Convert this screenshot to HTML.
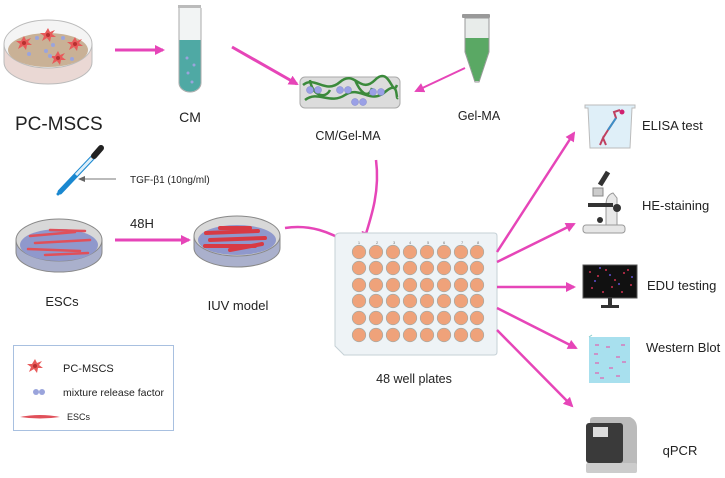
<!DOCTYPE html>
<html><head><meta charset="utf-8"><style>
html,body{margin:0;padding:0;background:#fff;}
svg{display:block;}
text{font-family:"Liberation Sans",sans-serif;fill:#222;}
</style></head><body>
<svg width="725" height="478" viewBox="0 0 725 478" xmlns="http://www.w3.org/2000/svg">
<defs>
<marker id="ah" markerWidth="10" markerHeight="10" refX="8" refY="5" orient="auto" markerUnits="userSpaceOnUse"><path d="M0,0 L10,5 L0,10 Z" fill="#e645b8"/></marker>
<marker id="ag" markerWidth="8" markerHeight="8" refX="6" refY="4" orient="auto" markerUnits="userSpaceOnUse"><path d="M0,1 L7,4 L0,7 Z" fill="#666"/></marker>
<g id="star"><path d="M0,-7 L2,-3 L7,-5 L4,-1 L8,2 L3,2 L2,7 L-1,3 L-6,6 L-4,1 L-8,-2 L-3,-2 Z" fill="#e85a5a"/><circle r="2" fill="#b83030"/></g>
</defs>

<!-- PC-MSCS dish -->
<path d="M4,44 L4,62 A44,22 0 0 0 92,62 L92,44" fill="#ead8d4" stroke="#bbb"/>
<ellipse cx="48" cy="44" rx="44" ry="24" fill="#f4f4f4" stroke="#bbb"/>
<ellipse cx="48" cy="50" rx="40" ry="17" fill="#c9b196"/>
<use href="#star" x="24" y="43"/><use href="#star" x="48" y="35"/><use href="#star" x="75" y="44"/><use href="#star" x="58" y="58"/>
<g fill="#9aa4dc"><circle cx="37" cy="38" r="2"/><circle cx="53" cy="45" r="2"/><circle cx="63" cy="38" r="2"/><circle cx="46" cy="51" r="2"/><circle cx="29" cy="54" r="2"/><circle cx="72" cy="59" r="2"/><circle cx="50" cy="56" r="2"/></g>
<text x="15" y="130" font-size="19">PC-MSCS</text>

<line x1="115" y1="50" x2="163" y2="50" stroke="#e645b8" stroke-width="3" marker-end="url(#ah)"/>

<!-- CM tube -->
<rect x="178" y="5" width="23" height="3" fill="#bbb"/>
<path d="M179,8 L179,83 A11,9 0 0 0 201,83 L201,8" fill="#f2f4f4" stroke="#aaa"/>
<path d="M179.5,40 L179.5,83 A10.5,8.5 0 0 0 200.5,83 L200.5,40 Z" fill="#4fa9a4"/>
<g fill="#9aa4dc"><circle cx="187" cy="58" r="1.5"/><circle cx="194" cy="65" r="1.5"/><circle cx="188" cy="73" r="1.5"/><circle cx="192" cy="82" r="1.5"/></g>
<text x="190" y="122" font-size="14" text-anchor="middle">CM</text>

<line x1="232" y1="47" x2="297" y2="84" stroke="#e645b8" stroke-width="3" marker-end="url(#ah)"/>

<!-- Gel -->
<rect x="300" y="77" width="100" height="31" rx="5" fill="#dcdcdc" stroke="#aaa"/>
<path d="M303,85 C315,75 325,95 340,82 S360,95 375,80 S392,98 397,85 M305,100 C318,90 330,105 345,95 S370,105 385,92 S395,100 398,98 M310,80 C312,95 325,100 330,90 M355,80 C360,92 368,100 372,88" stroke="#3b8a3b" stroke-width="2.5" fill="none"/>
<g fill="#9aa0e6" stroke="#7c82cc" stroke-width=".5"><circle cx="310" cy="90" r="3.5"/><circle cx="318" cy="90" r="3.5"/><circle cx="340" cy="90" r="3.5"/><circle cx="348" cy="90" r="3.5"/><circle cx="355" cy="102" r="3.5"/><circle cx="363" cy="102" r="3.5"/><circle cx="373" cy="92" r="3.5"/><circle cx="381" cy="92" r="3.5"/></g>
<text x="348" y="140" font-size="12.5" text-anchor="middle">CM/Gel-MA</text>

<!-- Gel-MA tube -->
<rect x="462" y="14" width="28" height="4" rx="1" fill="#999"/>
<path d="M465,18 L489,18 L489,52 L479,82 L475,82 L465,52 Z" fill="#e8ecea" stroke="#999"/>
<path d="M465.5,38 L488.5,38 L488.5,52 L479,81 L475,81 L465.5,52 Z" fill="#5aa864"/>
<text x="479" y="120" font-size="12.5" text-anchor="middle">Gel-MA</text>
<line x1="465" y1="68" x2="416" y2="91" stroke="#e645b8" stroke-width="2" marker-end="url(#ah)"/>

<path d="M376,160 C380,190 372,215 364,240" stroke="#e645b8" stroke-width="2.5" fill="none" marker-end="url(#ah)"/>

<!-- dropper -->
<line x1="60" y1="192" x2="96" y2="154" stroke="#1a88d0" stroke-width="5" stroke-linecap="round"/>
<line x1="76" y1="175" x2="96" y2="154" stroke="#ddeef8" stroke-width="3"/>
<line x1="94" y1="156" x2="101" y2="148" stroke="#222" stroke-width="6" stroke-linecap="round"/>
<circle cx="58" cy="194" r="1.5" fill="#1a88d0"/>
<line x1="116" y1="179" x2="79" y2="179" stroke="#777" stroke-width="1" marker-end="url(#ag)"/>
<text x="130" y="183" font-size="10">TGF-β1 (10ng/ml)</text>

<!-- ESCs dish -->
<path d="M16,240 L16,252 A43,20 0 0 0 102,252 L102,240" fill="#aab0cc" stroke="#888"/>
<ellipse cx="59" cy="240" rx="43" ry="21" fill="#d8d8d8" stroke="#888"/>
<ellipse cx="59" cy="245" rx="39" ry="16" fill="#8f98cc"/>
<g stroke="#e0505a" stroke-width="2.5" stroke-linecap="round"><line x1="30" y1="236" x2="75" y2="232"/><line x1="35" y1="243" x2="90" y2="240"/><line x1="28" y1="249" x2="80" y2="251"/><line x1="45" y1="255" x2="88" y2="253"/><line x1="50" y1="230" x2="85" y2="231"/></g>
<text x="130" y="228" font-size="13">48H</text>
<line x1="115" y1="240" x2="189" y2="240" stroke="#e645b8" stroke-width="3" marker-end="url(#ah)"/>

<!-- IUV dish -->
<path d="M194,236 L194,248 A43,19 0 0 0 280,248 L280,236" fill="#aab0cc" stroke="#888"/>
<ellipse cx="237" cy="236" rx="43" ry="20" fill="#d8d8d8" stroke="#888"/>
<ellipse cx="237" cy="240" rx="39" ry="15" fill="#8f98cc"/>
<g stroke="#d83a44" stroke-width="4" stroke-linecap="round"><line x1="206" y1="233" x2="258" y2="231"/><line x1="210" y1="240" x2="265" y2="238"/><line x1="205" y1="246" x2="255" y2="246"/><line x1="220" y1="228" x2="250" y2="228"/><line x1="230" y1="250" x2="262" y2="244"/></g>
<text x="62" y="306" font-size="13" text-anchor="middle">ESCs</text>
<text x="238" y="310" font-size="13" text-anchor="middle">IUV model</text>

<path d="M285,228 C310,224 330,232 350,244" stroke="#e645b8" stroke-width="2.5" fill="none" marker-end="url(#ah)"/>

<!-- plate -->
<path d="M340,233 L494,233 Q497,233 497,236 L497,352 Q497,355 494,355 L344,355 L335,346 L335,238 Q335,233 340,233 Z" fill="#eef3f6" stroke="#c5d0d6"/>
<g font-size="4" fill="#777">
<text x="359" y="244" text-anchor="middle" style="fill:#777">1</text><text x="376" y="244" style="fill:#777">2</text><text x="393" y="244" style="fill:#777">3</text><text x="409" y="244" style="fill:#777">4</text><text x="427" y="244" style="fill:#777">5</text><text x="443" y="244" style="fill:#777">6</text><text x="461" y="244" style="fill:#777">7</text><text x="477" y="244" style="fill:#777">8</text>
</g>
<g fill="#efa27a" stroke="#9aa" stroke-width=".6" id="wells">
<circle cx="359" cy="252" r="6.8"/><circle cx="376" cy="252" r="6.8"/><circle cx="393" cy="252" r="6.8"/><circle cx="410" cy="252" r="6.8"/><circle cx="427" cy="252" r="6.8"/><circle cx="444" cy="252" r="6.8"/><circle cx="461" cy="252" r="6.8"/><circle cx="477" cy="252" r="6.8"/>
<circle cx="359" cy="268" r="6.8"/><circle cx="376" cy="268" r="6.8"/><circle cx="393" cy="268" r="6.8"/><circle cx="410" cy="268" r="6.8"/><circle cx="427" cy="268" r="6.8"/><circle cx="444" cy="268" r="6.8"/><circle cx="461" cy="268" r="6.8"/><circle cx="477" cy="268" r="6.8"/>
<circle cx="359" cy="285" r="6.8"/><circle cx="376" cy="285" r="6.8"/><circle cx="393" cy="285" r="6.8"/><circle cx="410" cy="285" r="6.8"/><circle cx="427" cy="285" r="6.8"/><circle cx="444" cy="285" r="6.8"/><circle cx="461" cy="285" r="6.8"/><circle cx="477" cy="285" r="6.8"/>
<circle cx="359" cy="301" r="6.8"/><circle cx="376" cy="301" r="6.8"/><circle cx="393" cy="301" r="6.8"/><circle cx="410" cy="301" r="6.8"/><circle cx="427" cy="301" r="6.8"/><circle cx="444" cy="301" r="6.8"/><circle cx="461" cy="301" r="6.8"/><circle cx="477" cy="301" r="6.8"/>
<circle cx="359" cy="318" r="6.8"/><circle cx="376" cy="318" r="6.8"/><circle cx="393" cy="318" r="6.8"/><circle cx="410" cy="318" r="6.8"/><circle cx="427" cy="318" r="6.8"/><circle cx="444" cy="318" r="6.8"/><circle cx="461" cy="318" r="6.8"/><circle cx="477" cy="318" r="6.8"/>
<circle cx="359" cy="335" r="6.8"/><circle cx="376" cy="335" r="6.8"/><circle cx="393" cy="335" r="6.8"/><circle cx="410" cy="335" r="6.8"/><circle cx="427" cy="335" r="6.8"/><circle cx="444" cy="335" r="6.8"/><circle cx="461" cy="335" r="6.8"/><circle cx="477" cy="335" r="6.8"/>
</g>
<text x="414" y="383" font-size="12.5" text-anchor="middle">48 well plates</text>

<!-- right arrows -->
<g stroke="#e645b8" stroke-width="2.5" fill="none">
<line x1="497" y1="252" x2="574" y2="133" marker-end="url(#ah)"/>
<line x1="497" y1="262" x2="574" y2="224" marker-end="url(#ah)"/>
<line x1="497" y1="287" x2="574" y2="287" marker-end="url(#ah)"/>
<line x1="497" y1="308" x2="576" y2="348" marker-end="url(#ah)"/>
<line x1="497" y1="330" x2="572" y2="406" marker-end="url(#ah)"/>
</g>

<!-- ELISA -->
<path d="M585,105 L635,105 L635,108 L632,108 L630,148 L590,148 L588,108 L585,108 Z" fill="#dfeff8" stroke="#bbb"/>
<path d="M600,145 L603,138 L606,145 M603,138 L608,130 L612,124 L616,118 L614,112 L620,110" stroke="#c04060" stroke-width="2" fill="none"/>
<line x1="608" y1="130" x2="616" y2="118" stroke="#3a90c8" stroke-width="2"/>
<circle cx="622" cy="112" r="2.5" fill="#d02070"/>
<text x="642" y="130" font-size="13">ELISA test</text>

<!-- microscope -->
<rect x="583" y="225" width="42" height="8" rx="3" fill="#e6e6e6" stroke="#999"/>
<path d="M606,225 L606,205 Q606,195 613,193 L617,198 L617,225 Z" fill="#e8e8e8" stroke="#999"/>
<rect x="588" y="203" width="25" height="4" fill="#333"/>
<circle cx="617" cy="208" r="4" fill="#333"/>
<line x1="600" y1="185" x2="608" y2="172" stroke="#333" stroke-width="5"/>
<rect x="593" y="188" width="10" height="8" fill="#ccc" stroke="#888"/>
<circle cx="600" cy="220" r="3" fill="#333"/>
<text x="642" y="210" font-size="13">HE-staining</text>

<!-- monitor -->
<rect x="583" y="265" width="54" height="33" fill="#111" stroke="#555"/>
<g fill="#d03050"><circle cx="590" cy="272" r="1"/><circle cx="598" cy="276" r="1"/><circle cx="606" cy="270" r="1"/><circle cx="615" cy="280" r="1"/><circle cx="624" cy="273" r="1"/><circle cx="631" cy="285" r="1"/><circle cx="592" cy="288" r="1"/><circle cx="603" cy="292" r="1"/><circle cx="612" cy="287" r="1"/><circle cx="622" cy="292" r="1"/><circle cx="628" cy="270" r="1"/></g>
<g fill="#6050d0"><circle cx="595" cy="281" r="1"/><circle cx="610" cy="275" r="1"/><circle cx="619" cy="284" r="1"/><circle cx="600" cy="268" r="1"/><circle cx="632" cy="277" r="1"/></g>
<rect x="608" y="298" width="4" height="8" fill="#333"/><rect x="601" y="305" width="18" height="3" fill="#333"/>
<text x="647" y="290" font-size="13">EDU testing</text>

<!-- WB -->
<path d="M589,337 L630,337 L630,383 L589,383 Z" fill="#a8e0ee"/>
<path d="M589,337 L592,335 M589,337" stroke="#8cc"/>
<g stroke="#e060b0" stroke-width="1.2"><line x1="595" y1="345" x2="599" y2="345"/><line x1="606" y1="347" x2="610" y2="347"/><line x1="621" y1="345" x2="625" y2="345"/><line x1="594" y1="354" x2="598" y2="354"/><line x1="616" y1="357" x2="620" y2="357"/><line x1="595" y1="363" x2="599" y2="363"/><line x1="609" y1="368" x2="613" y2="368"/><line x1="622" y1="362" x2="626" y2="362"/><line x1="595" y1="373" x2="599" y2="373"/><line x1="616" y1="376" x2="620" y2="376"/><line x1="600" y1="378" x2="604" y2="378"/></g>
<text x="646" y="352" font-size="13">Western Blot</text>

<!-- qPCR -->
<path d="M590,420 Q590,417 594,417 L630,417 Q637,420 637,428 L637,470 L588,470 Z" fill="#bbb"/>
<rect x="586" y="423" width="37" height="40" rx="3" fill="#3a3a3a"/>
<rect x="593" y="427" width="15" height="10" fill="#ddd"/>
<rect x="586" y="463" width="51" height="10" rx="2" fill="#ccc"/>
<text x="680" y="455" font-size="13" text-anchor="middle">qPCR</text>

<!-- legend -->
<rect x="13.5" y="345.5" width="160" height="85" fill="#fff" stroke="#a8c0e0"/>
<use href="#star" x="35" y="366" transform="translate(-35 -366) scale(1) translate(35 366)"/>
<text x="63" y="372" font-size="11">PC-MSCS</text>
<circle cx="36" cy="392" r="3" fill="#9aa4dc"/><circle cx="42" cy="392" r="3" fill="#9aa4dc"/>
<text x="63" y="396" font-size="10.5">mixture release factor</text>
<path d="M20,417 Q40,413 60,417 Q40,420 20,417 Z" fill="#e0505a"/>
<text x="67" y="420" font-size="9">ESCs</text>
</svg>
</body></html>
